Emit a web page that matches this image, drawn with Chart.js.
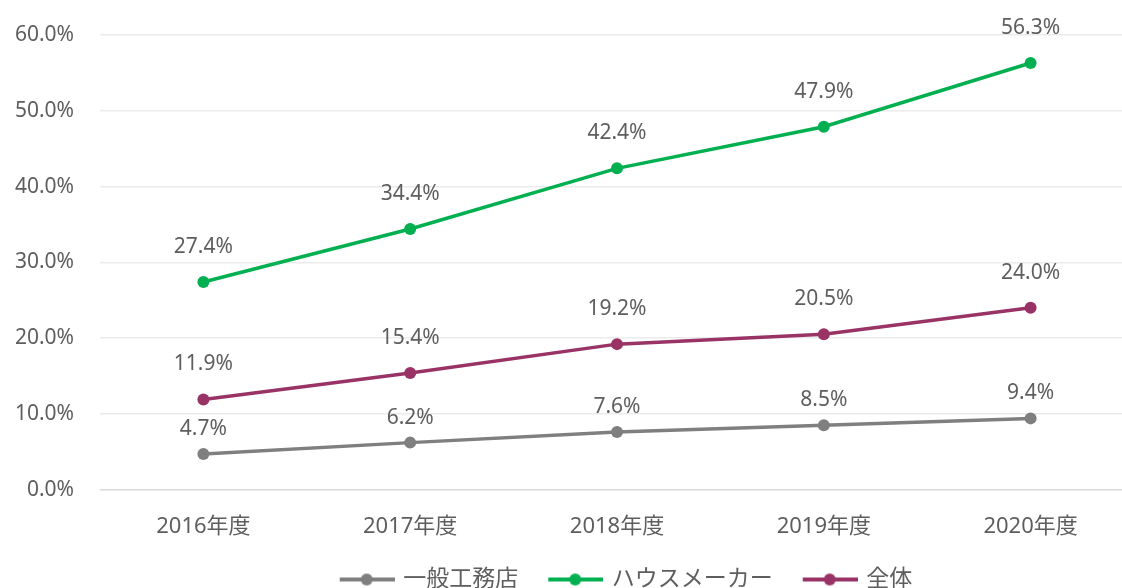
<!DOCTYPE html>
<html>
<head>
<meta charset="utf-8">
<script src="https://cdn.jsdelivr.net/npm/chart.js@4"></script>
<style>
  html, body { margin: 0; padding: 0; background: #fff; overflow: hidden; width: 1122px; height: 588px; }
  #wrap { width: 1140px; height: 601px; }
</style>
</head>
<body>
<div id="wrap"><canvas id="myChart"></canvas></div>
<script>
const years = ["2016年度", "2017年度", "2018年度", "2019年度", "2020年度"];
const koumuten = [4.7, 6.2, 7.6, 8.5, 9.4];
const houseMaker = [27.4, 34.4, 42.4, 47.9, 56.3];
const zentai = [11.9, 15.4, 19.2, 20.5, 24.0];
const yTicks = [0, 10, 20, 30, 40, 50, 60];

const FONT = "'Noto Sans', 'Noto Sans CJK JP', sans-serif";
const TEXT = "#5e5e5e";

// legend marker: transparent gap on the left, then line with a dot
function legendMarker(color) {
  const c = document.createElement("canvas");
  c.width = 76;
  c.height = 14;
  const g = c.getContext("2d");
  g.strokeStyle = color;
  g.lineWidth = 4;
  g.beginPath();
  g.moveTo(21, 7);
  g.lineTo(76, 7);
  g.stroke();
  g.fillStyle = color;
  g.beginPath();
  g.arc(48, 7, 6, 0, Math.PI * 2);
  g.fill();
  return c;
}

// value labels above each point
const valueLabels = {
  id: "valueLabels",
  afterDatasetsDraw(chart) {
    const ctx = chart.ctx;
    ctx.save();
    ctx.font = "21px " + FONT;
    ctx.fillStyle = TEXT;
    ctx.textAlign = "center";
    ctx.textBaseline = "middle";
    chart.data.datasets.forEach((ds, i) => {
      chart.getDatasetMeta(i).data.forEach((pt, j) => {
        ctx.fillText(ds.data[j].toFixed(1) + "%", pt.x, pt.y - ds.labelOffset);
      });
    });
    ctx.restore();
  },
};

const ctx = document.getElementById("myChart").getContext("2d");
new Chart(ctx, {
  type: "line",
  data: {
    labels: years,
    datasets: [
      { label: "一般工務店", data: koumuten, color: "#7f7f7f", labelOffset: 25 },
      { label: "ハウスメーカー", data: houseMaker, color: "#00b050", labelOffset: 35 },
      { label: "全体", data: zentai, color: "#993366", labelOffset: 35 },
    ].map((d) => ({
      label: d.label,
      data: d.data,
      labelOffset: d.labelOffset,
      borderColor: d.color,
      backgroundColor: d.color,
      borderWidth: 3.5,
      pointRadius: 6,
      pointHoverRadius: 6,
      pointBorderWidth: 0,
      tension: 0,
      markerImg: legendMarker(d.color),
    })),
  },
  options: {
    responsive: true,
    maintainAspectRatio: false,
    animation: false,
    layout: { padding: { top: 35, right: 3, bottom: 0, left: 0 } },
    scales: {
      x: {
        offset: true,
        grid: { display: false },
        border: { display: false },
        ticks: { color: TEXT, font: { family: FONT, size: 22 }, padding: 16 },
      },
      y: {
        min: 0,
        max: 60,
        afterBuildTicks(scale) {
          scale.ticks = yTicks.map((v) => ({ value: v }));
        },
        afterFit(scale) {
          scale.width = 100;
          scale.paddingTop = 0;
          scale.paddingBottom = 0;
        },
        border: { display: false },
        grid: {
          drawTicks: false,
          lineWidth: 1.5,
          color: (c) => (c.tick && c.tick.value === 0 ? "#d9d9d9" : "#ebebeb"),
        },
        ticks: {
          color: TEXT,
          font: { family: FONT, size: 21 },
          padding: 26,
          callback: (v) => v.toFixed(1) + "%",
        },
      },
    },
    plugins: {
      legend: {
        position: "bottom",
        fullSize: false,
        labels: {
          color: TEXT,
          font: { family: FONT, size: 23 },
          usePointStyle: true,
          pointStyleWidth: 70,
          padding: 12,
          generateLabels(chart) {
            return chart.data.datasets.map((ds, i) => ({
              text: ds.label,
              fillStyle: ds.borderColor,
              strokeStyle: ds.borderColor,
              fontColor: TEXT,
              pointStyle: ds.markerImg,
              datasetIndex: i,
              hidden: false,
              lineWidth: 0,
            }));
          },
        },
      },
      tooltip: { enabled: false },
    },
  },
  plugins: [valueLabels],
});
</script>
</body>
</html>
